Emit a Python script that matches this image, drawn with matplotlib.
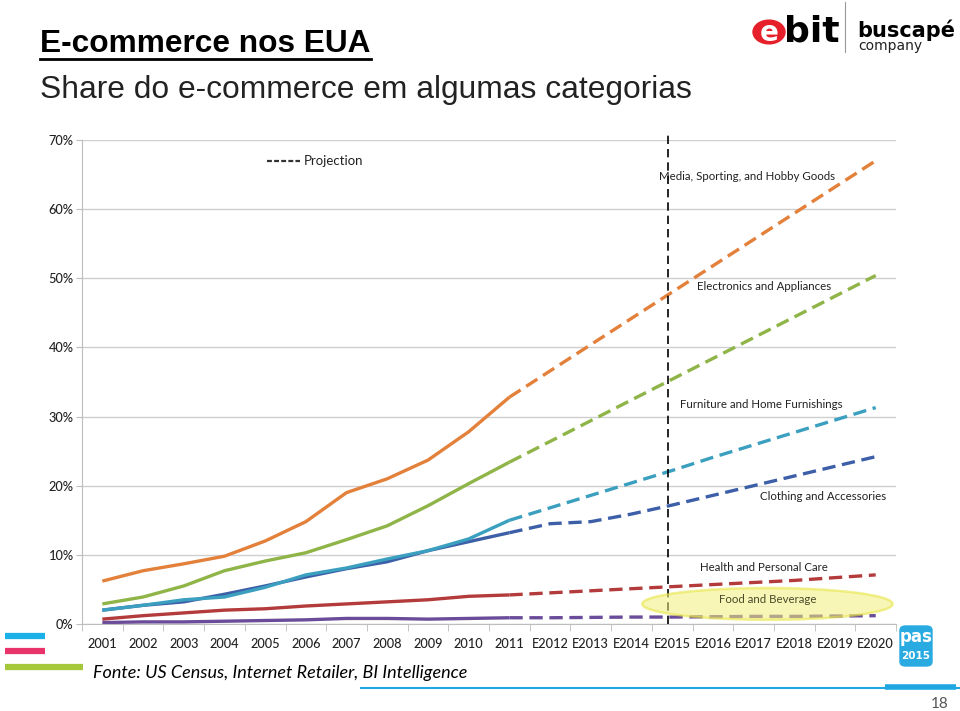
import matplotlib.pyplot as plt
from matplotlib.lines import Line2D
from matplotlib.patches import Ellipse, Circle, FancyBboxPatch

years = ['2001', '2002', '2003', '2004', '2005', '2006', '2007', '2008', '2009', '2010',
         '2011', 'E2012', 'E2013', 'E2014', 'E2015', 'E2016', 'E2017', 'E2018', 'E2019', 'E2020']

# share do e-commerce (%) por categoria
media = [6.2, 7.7, 8.7, 9.8, 12.0, 14.8, 19.0, 21.0, 23.7, 27.8,
         32.8, 36.6, 40.4, 44.2, 48.0, 51.8, 55.6, 59.4, 63.2, 67.0]
electronics = [2.9, 3.9, 5.5, 7.7, 9.1, 10.3, 12.2, 14.2, 17.1, 20.3,
               23.4, 26.4, 29.4, 32.4, 35.4, 38.4, 41.4, 44.4, 47.4, 50.4]
furniture = [2.0, 2.7, 3.5, 3.9, 5.3, 7.1, 8.1, 9.4, 10.6, 12.3,
             15.0, 16.8, 18.6, 20.4, 22.2, 24.1, 25.9, 27.7, 29.5, 31.3]
clothing = [2.0, 2.7, 3.2, 4.3, 5.5, 6.8, 8.0, 9.0, 10.6, 11.9,
            13.2, 14.5, 14.8, 15.9, 17.2, 18.6, 20.0, 21.4, 22.8, 24.2]
health = [0.7, 1.2, 1.6, 2.0, 2.2, 2.6, 2.9, 3.2, 3.5, 4.0,
          4.2, 4.5, 4.8, 5.1, 5.4, 5.7, 6.0, 6.3, 6.7, 7.1]
food = [0.2, 0.3, 0.3, 0.4, 0.5, 0.6, 0.8, 0.8, 0.7, 0.8,
        0.9, 0.9, 0.95, 1.0, 1.0, 1.05, 1.1, 1.1, 1.15, 1.2]

series = [
    (media, '#e3803a'),
    (electronics, '#8fb447'),
    (clothing, '#3c5fa8'),
    (furniture, '#3b9fbf'),
    (health, '#b33b3b'),
    (food, '#6b4c9a'),
]

labels = [
    ('Media, Sporting, and Hobby Goods', 13.68, 64.7),
    ('Electronics and Appliances', 14.62, 48.8),
    ('Furniture and Home Furnishings', 14.2, 31.7),
    ('Clothing and Accessories', 16.15, 18.5),
    ('Health and Personal Care', 14.69, 8.2),
]

last_real = 10  # 2011 = último dado real

fig = plt.figure(figsize=(9.6, 7.11), dpi=100)
ax = fig.add_axes([0.0854, 0.1224, 0.848, 0.6807])

x = list(range(len(years)))
for vals, col in series:
    ax.plot(x[:last_real + 1], vals[:last_real + 1], color=col, lw=2.4,
            solid_capstyle='butt')
    ax.plot(x[last_real:], vals[last_real:], color=col, lw=2.4,
            linestyle=(0, (4, 2)), dash_capstyle='butt')

ax.set_xlim(-0.5, 19.5)
ax.set_ylim(0, 70)
ax.set_yticks(range(0, 71, 10))
ax.set_yticklabels([f'{v}%' for v in range(0, 71, 10)])
ax.set_xticks(x)
ax.set_xticklabels(years)
ax.set_xticks([i - 0.5 for i in range(21)], minor=True)
ax.grid(axis='y', color='#cfcfcf', lw=1)
ax.set_axisbelow(True)
for s in ['top', 'right']:
    ax.spines[s].set_visible(False)
for s in ['left', 'bottom']:
    ax.spines[s].set_color('#bdbdbd')
ax.tick_params(axis='x', which='major', length=0, pad=10, labelsize=9.2,
               labelcolor='#222222')
ax.tick_params(axis='x', which='minor', length=5, color='#bdbdbd')
ax.tick_params(axis='y', length=4, color='#bdbdbd', pad=2, labelsize=9.2,
               labelcolor='#222222')
for t in ax.get_xticklabels() + ax.get_yticklabels():
    t.set_family('Lato')
    t.set_fontweight('medium')

# linha vertical da projeção (E2015)
ax.plot([13.9, 13.9], [0, 71.2], color='black', lw=1.2, linestyle=(0, (5, 3)),
        clip_on=False, zorder=5)

# legenda "Projection"
ax.plot([4.05, 4.86], [66.9, 66.9], color='#333333', lw=1.6,
        linestyle=(0, (2.2, 1)), clip_on=False)
ax.text(4.95, 66.9, 'Projection', fontsize=9.5, family='Lato',
        color='#222222', va='center', ha='left')

for txt, lx, ly in labels:
    ax.text(lx, ly, txt, fontsize=8.3, family='Lato', color='#222222',
            va='center', ha='left')

ell = Ellipse((16.34, 2.9), 6.15, 4.6, facecolor='#f2f07a', alpha=0.55,
              edgecolor='#e6e43c', lw=1.8, zorder=6, clip_on=False)
ax.add_patch(ell)
ax.text(16.34, 3.5, 'Food and Beverage', fontsize=8.3, family='Lato',
        color='#4a4a2a', va='center', ha='center', zorder=7)

# títulos
fig.text(40 / 960, 1 - 44 / 711, 'E-commerce nos EUA', fontsize=22.8,
         fontweight='bold', family='Liberation Sans', va='center', ha='left')
fig.add_artist(Line2D([40 / 960, 371 / 960], [1 - 59 / 711, 1 - 59 / 711],
                      color='black', lw=2))
fig.text(40 / 960, 1 - 90 / 711, 'Share do e-commerce em algumas categorias',
         fontsize=22.9, family='Liberation Sans', color='#222222',
         va='center', ha='left')

# logo ebit | buscapé
fig.add_artist(Circle((769 / 960, 1 - 32 / 711), 16 / 960, color='#e6202a',
                      transform=fig.transFigure))
fig.text(769 / 960, 1 - 33 / 711, 'e', fontsize=20, fontweight='bold',
         color='white', family='DejaVu Sans', ha='center', va='center')
fig.text(784 / 960, 1 - 31 / 711, 'bit', fontsize=26, fontweight='bold',
         color='black', family='DejaVu Sans', ha='left', va='center')
fig.add_artist(Line2D([845 / 960, 845 / 960], [1 - 2 / 711, 1 - 52 / 711],
                      color='#999999', lw=0.8))
fig.text(857 / 960, 1 - 30 / 711, 'buscapé', fontsize=15, fontweight='bold',
         color='black', family='DejaVu Sans', ha='left', va='center')
fig.text(858 / 960, 1 - 46 / 711, 'company', fontsize=10,
         color='#222222', family='DejaVu Sans', ha='left', va='center')

# fonte
fig.text(93 / 960, 1 - 673 / 711,
         'Fonte: US Census, Internet Retailer, BI Intelligence',
         fontsize=13, style='italic', family='Lato', color='black',
         ha='left', va='center')

# barras decorativas
fig.add_artist(Line2D([5 / 960, 45 / 960], [1 - 636 / 711] * 2,
                      color='#1ab0e8', lw=4.5, solid_capstyle='butt'))
fig.add_artist(Line2D([5 / 960, 45 / 960], [1 - 651 / 711] * 2,
                      color='#e8336b', lw=4.5, solid_capstyle='butt'))
fig.add_artist(Line2D([5 / 960, 83 / 960], [1 - 667 / 711] * 2,
                      color='#a5c83a', lw=4.5, solid_capstyle='butt'))
fig.add_artist(Line2D([360 / 960, 960 / 960], [1 - 688 / 711] * 2,
                      color='#1ea7e1', lw=1.5, solid_capstyle='butt'))
fig.add_artist(Line2D([885 / 960, 956 / 960], [1 - 687 / 711] * 2,
                      color='#1ea7e1', lw=4, solid_capstyle='butt'))

# selo pas 2015
fig.add_artist(FancyBboxPatch((900 / 960, 1 - 666 / 711), 32 / 960, 40 / 711,
                              boxstyle='round,pad=0,rounding_size=0.006',
                              color='#29abe2', transform=fig.transFigure))
fig.text(916 / 960, 1 - 637 / 711, 'pas', fontsize=12, fontweight='bold',
         color='white', family='DejaVu Sans', ha='center', va='center')
fig.text(916 / 960, 1 - 656 / 711, '2015', fontsize=7.5, fontweight='bold',
         color='white', family='DejaVu Sans', ha='center', va='center')

fig.text(940 / 960, 1 - 704 / 711, '18', fontsize=11, color='#555555',
         family='Lato', ha='center', va='center')

fig.savefig('out.png', dpi=100)
